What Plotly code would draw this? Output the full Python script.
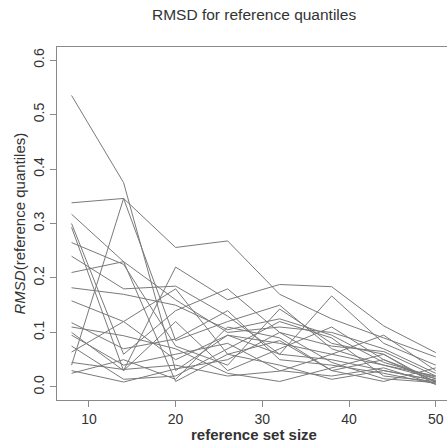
import plotly.graph_objects as go

x_sizes = [8, 14, 20, 26, 32, 38, 44, 50]

s01 = [0.535, 0.375, 0.030, 0.095, 0.060, 0.050, 0.030, 0.012]
s02 = [0.338, 0.346, 0.256, 0.268, 0.170, 0.125, 0.090, 0.055]
s03 = [0.040, 0.346, 0.085, 0.120, 0.150, 0.070, 0.040, 0.015]
s04 = [0.317, 0.230, 0.010, 0.060, 0.085, 0.030, 0.050, 0.010]
s05 = [0.300, 0.060, 0.140, 0.180, 0.100, 0.075, 0.065, 0.020]
s06 = [0.293, 0.030, 0.220, 0.160, 0.188, 0.184, 0.112, 0.063]
s07 = [0.265, 0.225, 0.075, 0.040, 0.143, 0.080, 0.060, 0.008]
s08 = [0.240, 0.180, 0.185, 0.130, 0.060, 0.167, 0.080, 0.040]
s09 = [0.210, 0.230, 0.160, 0.100, 0.110, 0.100, 0.070, 0.025]
s10 = [0.182, 0.170, 0.150, 0.105, 0.125, 0.095, 0.045, 0.018]
s11 = [0.158, 0.120, 0.050, 0.095, 0.080, 0.060, 0.095, 0.030]
s12 = [0.118, 0.070, 0.088, 0.140, 0.050, 0.040, 0.025, 0.006]
s13 = [0.100, 0.030, 0.120, 0.030, 0.070, 0.110, 0.050, 0.015]
s14 = [0.095, 0.040, 0.060, 0.080, 0.030, 0.020, 0.035, 0.005]
s15 = [0.075, 0.014, 0.020, 0.070, 0.120, 0.090, 0.020, 0.010]
s16 = [0.064, 0.120, 0.180, 0.060, 0.040, 0.014, 0.030, 0.012]
s17 = [0.045, 0.032, 0.040, 0.020, 0.029, 0.060, 0.040, 0.020]
s18 = [0.030, 0.009, 0.033, 0.050, 0.100, 0.045, 0.015, 0.008]
s19 = [0.025, 0.050, 0.014, 0.110, 0.090, 0.030, 0.010, 0.035]
s20 = [0.110, 0.094, 0.070, 0.025, 0.010, 0.035, 0.060, 0.004]

series = [s01, s02, s03, s04, s05, s06, s07, s08, s09, s10,
          s11, s12, s13, s14, s15, s16, s17, s18, s19, s20]

x_ticks = [10, 20, 30, 40, 50]
y_ticks = [0.0, 0.1, 0.2, 0.3, 0.4, 0.5, 0.6]
y_tick_text = ["0.0", "0.1", "0.2", "0.3", "0.4", "0.5", "0.6"]

fig = go.Figure()
for s in series:
    fig.add_trace(go.Scatter(x=x_sizes, y=s, mode="lines",
                             line=dict(color="#7a7a7a", width=1),
                             showlegend=False, hoverinfo="skip"))

axcol = "#8a8a8a"
txtcol = "#333333"
font_family = "Liberation Sans, Arial, sans-serif"

fig.update_layout(
    width=447, height=443,
    margin=dict(l=57, r=0, t=47, b=43),
    paper_bgcolor="white", plot_bgcolor="white",
    font=dict(family=font_family, color=txtcol, size=14),
    hovermode=False,
    xaxis=dict(range=[6.32, 51.3], tickvals=x_ticks, ticks="outside",
               ticklen=6, tickcolor=axcol, showline=True, linecolor=axcol,
               linewidth=1, mirror=True, showgrid=False, zeroline=False,
               tickfont=dict(size=14, color=txtcol)),
    yaxis=dict(range=[-0.024, 0.624], tickvals=y_ticks, ticktext=y_tick_text,
               ticks="outside", ticklen=6, tickcolor=axcol, showline=True,
               linecolor=axcol, linewidth=1, showgrid=False, zeroline=False,
               tickangle=-90, tickfont=dict(size=14, color=txtcol)),
    annotations=[
        dict(text="RMSD for reference quantiles", xref="paper", yref="paper",
             x=0.505, y=1, yshift=33, xanchor="center", yanchor="middle",
             showarrow=False, font=dict(size=15.5, color=txtcol)),
        dict(text="<b>reference set size</b>", xref="paper", yref="paper",
             x=0.505, y=0, yshift=-34, xanchor="center", yanchor="middle",
             showarrow=False, font=dict(size=15, color=txtcol)),
        dict(text="<i>RMSD</i>(reference quantiles)", xref="paper", yref="paper",
             x=0, y=0.5, xshift=-38, xanchor="center", yanchor="middle",
             textangle=-90, showarrow=False, font=dict(size=15, color=txtcol)),
    ],
)

fig.write_html("out.html", config={"displayModeBar": False},
               post_script="document.body.style.margin='0';document.body.style.overflow='hidden';")
